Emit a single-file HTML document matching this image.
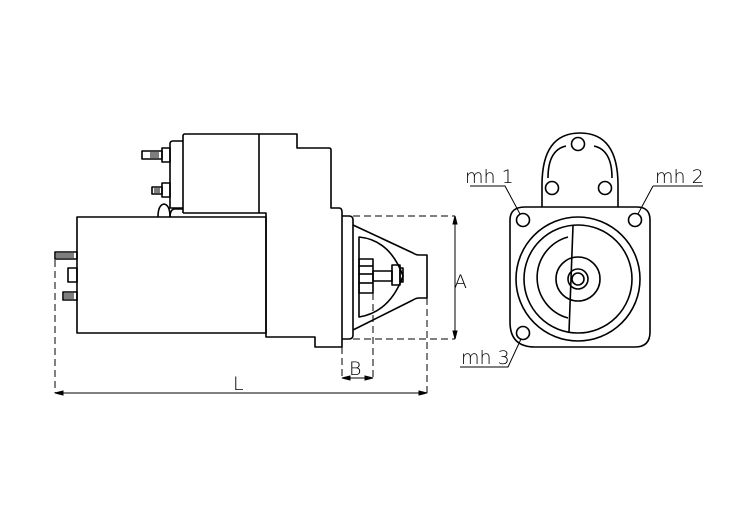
<!DOCTYPE html>
<html><head><style>body{margin:0;background:#fff}svg{display:block}text{font-family:"DejaVu Sans","Liberation Sans",sans-serif;font-weight:200}</style></head><body>
<svg width="750" height="529" viewBox="0 0 750 529" xmlns="http://www.w3.org/2000/svg">
<rect width="750" height="529" fill="#fff"/>
<g fill="none" stroke="#000" stroke-width="1.6" stroke-linejoin="round">
<!-- main body -->
<rect x="77" y="217" width="189" height="116"/>
<!-- solenoid -->
<path d="M183,213 V136 Q183,134 185,134 H297 V148 H329 Q331,148 331,150 V208 H339 Q342,208 342,212"/>
<line x1="259" y1="134" x2="259" y2="213"/>
<path d="M183,213 H266 V337 H315 V347 H342 V212"/>
<path d="M183,141 H173 Q170,141 170,144 V208 H183"/>
<path d="M158,217 Q158,205 164,204 Q170,205 170,217"/>
<path d="M170,217 Q170,210 174,209 H183"/>
<!-- bolts -->
<rect x="162" y="148" width="8" height="14"/>
<rect x="142" y="151" width="20" height="8"/>
<rect x="162" y="183" width="8" height="14"/>
<rect x="152" y="187" width="10" height="7"/>
<!-- left terminals -->
<rect x="55" y="252" width="22" height="7"/>
<rect x="68" y="268" width="9" height="14"/>
<rect x="63" y="292" width="14" height="8"/>
<!-- nose -->
<path d="M342,216 H349 Q353,216 353,220 V335 Q353,339 349,339 H342"/>
<path d="M353,225 L413,253 Q416,255 419,255 H427 V298 H419 Q416,298 413,300 L353,330"/>
<path d="M359,237 Q390,240 403,276 Q390,312 359,317 Z"/>
<rect x="359" y="259" width="14" height="34"/>
<line x1="359" y1="266" x2="373" y2="266"/><line x1="359" y1="274" x2="373" y2="274"/><line x1="359" y1="283" x2="373" y2="283"/>
<rect x="373" y="271" width="19" height="10"/>
<rect x="392" y="265" width="8" height="20"/>
<rect x="400" y="268" width="3" height="14"/>
</g>
<g fill="#000" opacity="0.5">
<rect x="150" y="152" width="9" height="6"/><rect x="154" y="188" width="6" height="5"/>
<rect x="56" y="253" width="18" height="5"/><rect x="64" y="293" width="10" height="6"/>
</g>
<!-- dimensions -->
<g fill="none" stroke="#000" stroke-width="1" stroke-dasharray="7,4">
<path d="M353,216 H455 M353,339 H455"/>
<path d="M342,347 V378 M373,293 V378"/>
<path d="M55,260 V393 M427,298 V393"/>
</g>
<g stroke="#000" stroke-width="1" fill="#000">
<line x1="455" y1="218" x2="455" y2="337"/>
<path d="M455,216 l-2,8 h4z M455,339 l-2,-8 h4z"/>
<line x1="344" y1="378" x2="371" y2="378"/>
<path d="M342,378 l8,-2 v4z M373,378 l-8,-2 v4z"/>
<line x1="57" y1="393" x2="425" y2="393"/>
<path d="M55,393 l8,-2 v4z M427,393 l-8,-2 v4z"/>
</g>
<g font-size="19" fill="#000">
<text x="454" y="288">A</text>
<text x="349" y="375">B</text>
<text x="233" y="390">L</text>
</g>
<!-- front view -->
<g fill="none" stroke="#000" stroke-width="1.6">
<path d="M525,207 H637 Q650,207 650,220 V332 Q650,347 635,347 H535 Q510,347 510,322 V220 Q510,207 525,207 Z"/>
<path d="M542,207 V185 Q542,133 580,133 Q618,133 618,185 V207"/>
<path d="M548,178 Q548,150 566,146 M594,146 Q612,150 612,178"/>
<circle cx="552" cy="188" r="6.5"/><circle cx="605" cy="188" r="6.5"/><circle cx="578" cy="144" r="6.5"/>
<circle cx="578" cy="279" r="62"/>
<circle cx="578" cy="279" r="54"/>
<path d="M573,226 L569,332"/>
<path d="M568,237 A42,42 0 0 0 568,318"/>
<circle cx="578" cy="279" r="22"/>
<circle cx="578" cy="279" r="10"/>
<circle cx="578" cy="279" r="6"/>
<circle cx="523" cy="220" r="6.5"/><circle cx="635" cy="220" r="6.5"/><circle cx="523" cy="333" r="6.5"/>
</g>
<g stroke="#000" stroke-width="1" fill="none">
<path d="M470,186 H505 L520,214"/>
<path d="M653,186 H703 M653,186 L638,214"/>
<path d="M460,367 H508 L521,339"/>
</g>
<g font-size="19" fill="#000">
<text x="465" y="183">mh 1</text>
<text x="655" y="183">mh 2</text>
<text x="461" y="364">mh 3</text>
</g>
</svg>
</body></html>
